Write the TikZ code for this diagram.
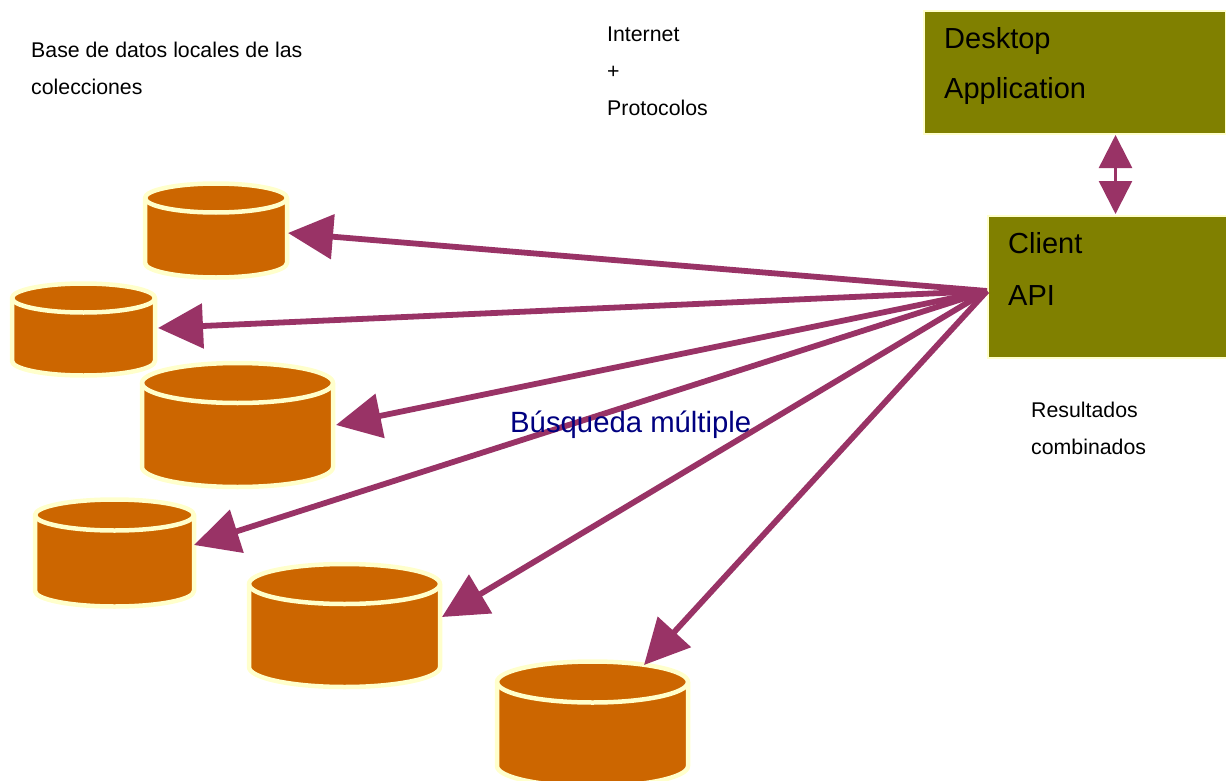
\documentclass[tikz,border=0pt]{standalone}
\usepackage{fontspec}
\setmainfont{Liberation Sans}
\usetikzlibrary{arrows.meta}
\definecolor{olivebox}{HTML}{808000}
\definecolor{orangedb}{HTML}{CC6600}
\definecolor{plumline}{HTML}{993366}
\definecolor{paleedge}{HTML}{FFFFCC}
\definecolor{navytext}{HTML}{000080}
\tikzset{
  dbbox/.style={rectangle,inner sep=0pt,outer sep=0pt},
  dbskin/.style={draw=paleedge,line width=4.5pt,fill=orangedb,line join=round},
  boxnode/.style={rectangle,draw=paleedge,line width=2pt,fill=olivebox,inner sep=0pt,outer sep=0pt},
  bigarrow/.style={plumline,line width=5.8pt,-{Triangle[length=45pt,width=44pt]}},
  twoway/.style={plumline,line width=2.5pt,{Triangle[length=33pt,width=33pt]}-{Triangle[length=33pt,width=33pt]}},
  smalltext/.style={font=\fontsize{21.3}{37}\selectfont,align=left,inner sep=0pt,anchor=west},
  boxtext/.style={font=\fontsize{29}{50}\selectfont,align=left,inner sep=0pt,anchor=west},
}
% name, centre x, centre y, width, height, end radius
\newcommand{\dbcan}[6]{%
  \node[dbbox,minimum width=#4pt,minimum height=#5pt] (#1) at (#2,#3) {};
  \begin{scope}[shift={(#1.north west)},x=1pt,y=1pt]
    \path[dbskin] (0,-#6) arc[start angle=180,end angle=0,x radius=#4/2,y radius=#6]
      -- (#4,-#5+#6) arc[start angle=0,end angle=-180,x radius=#4/2,y radius=#6] -- cycle;
    \path[dbskin,fill=none] (0,-#6) arc[start angle=180,end angle=360,x radius=#4/2,y radius=#6];
  \end{scope}}
\begin{document}
\begin{tikzpicture}[x=1pt,y=-1pt]
\useasboundingbox (0,0) rectangle (1226,781);
% boxes
\node[boxnode,minimum width=302pt,minimum height=123pt] (desk) at (1075,72.5) {};
\node[boxnode,minimum width=240pt,minimum height=142pt] (api) at (1108,287) {};
% databases
\dbcan{db1}{216}{230.5}{142}{94}{14.5}
\dbcan{db2}{83.5}{329.5}{143}{92}{14.5}
\dbcan{db3}{237.5}{425}{191}{124}{20}
\dbcan{db4}{114.5}{553}{159}{107}{15.5}
\dbcan{db5}{344.5}{625.5}{191}{123}{20}
\dbcan{db6}{592.5}{724}{191}{125}{20.5}
% connector ends
\coordinate (hub) at (987,291);
\coordinate (t1) at (288,233);
\coordinate (t2) at (158,328);
\coordinate (t3) at (336,425);
\coordinate (t4) at (194,545);
\coordinate (t5) at (442,617);
\coordinate (t6) at (644,665);
\coordinate (u1) at (1115.5,135);
\coordinate (u2) at (1115.5,214);
\draw[bigarrow] (hub) -- (t1);
\draw[bigarrow] (hub) -- (t2);
\draw[bigarrow] (hub) -- (t3);
\draw[bigarrow] (hub) -- (t4);
\draw[bigarrow] (hub) -- (t5);
\draw[bigarrow] (hub) -- (t6);
\draw[twoway] (u1) -- (u2);
% labels
\node[boxtext] (ldesk) at (944,66) {Desktop\\Application};
\node[boxtext] (lapi) at (1008,269) {Client\\[2pt]API};
\node[smalltext] (lbase) at (31,68.5) {Base de datos locales de las\\colecciones};
\node[smalltext] (lnet) at (607,71) {Internet\\+\\Protocolos};
\node[smalltext] (lres) at (1031,428.5) {Resultados\\combinados};
\node[font=\fontsize{29.3}{32}\selectfont,text=navytext,inner sep=0pt,anchor=base west] (lbus) at (510,432) {Búsqueda múltiple};
\end{tikzpicture}
\end{document}
